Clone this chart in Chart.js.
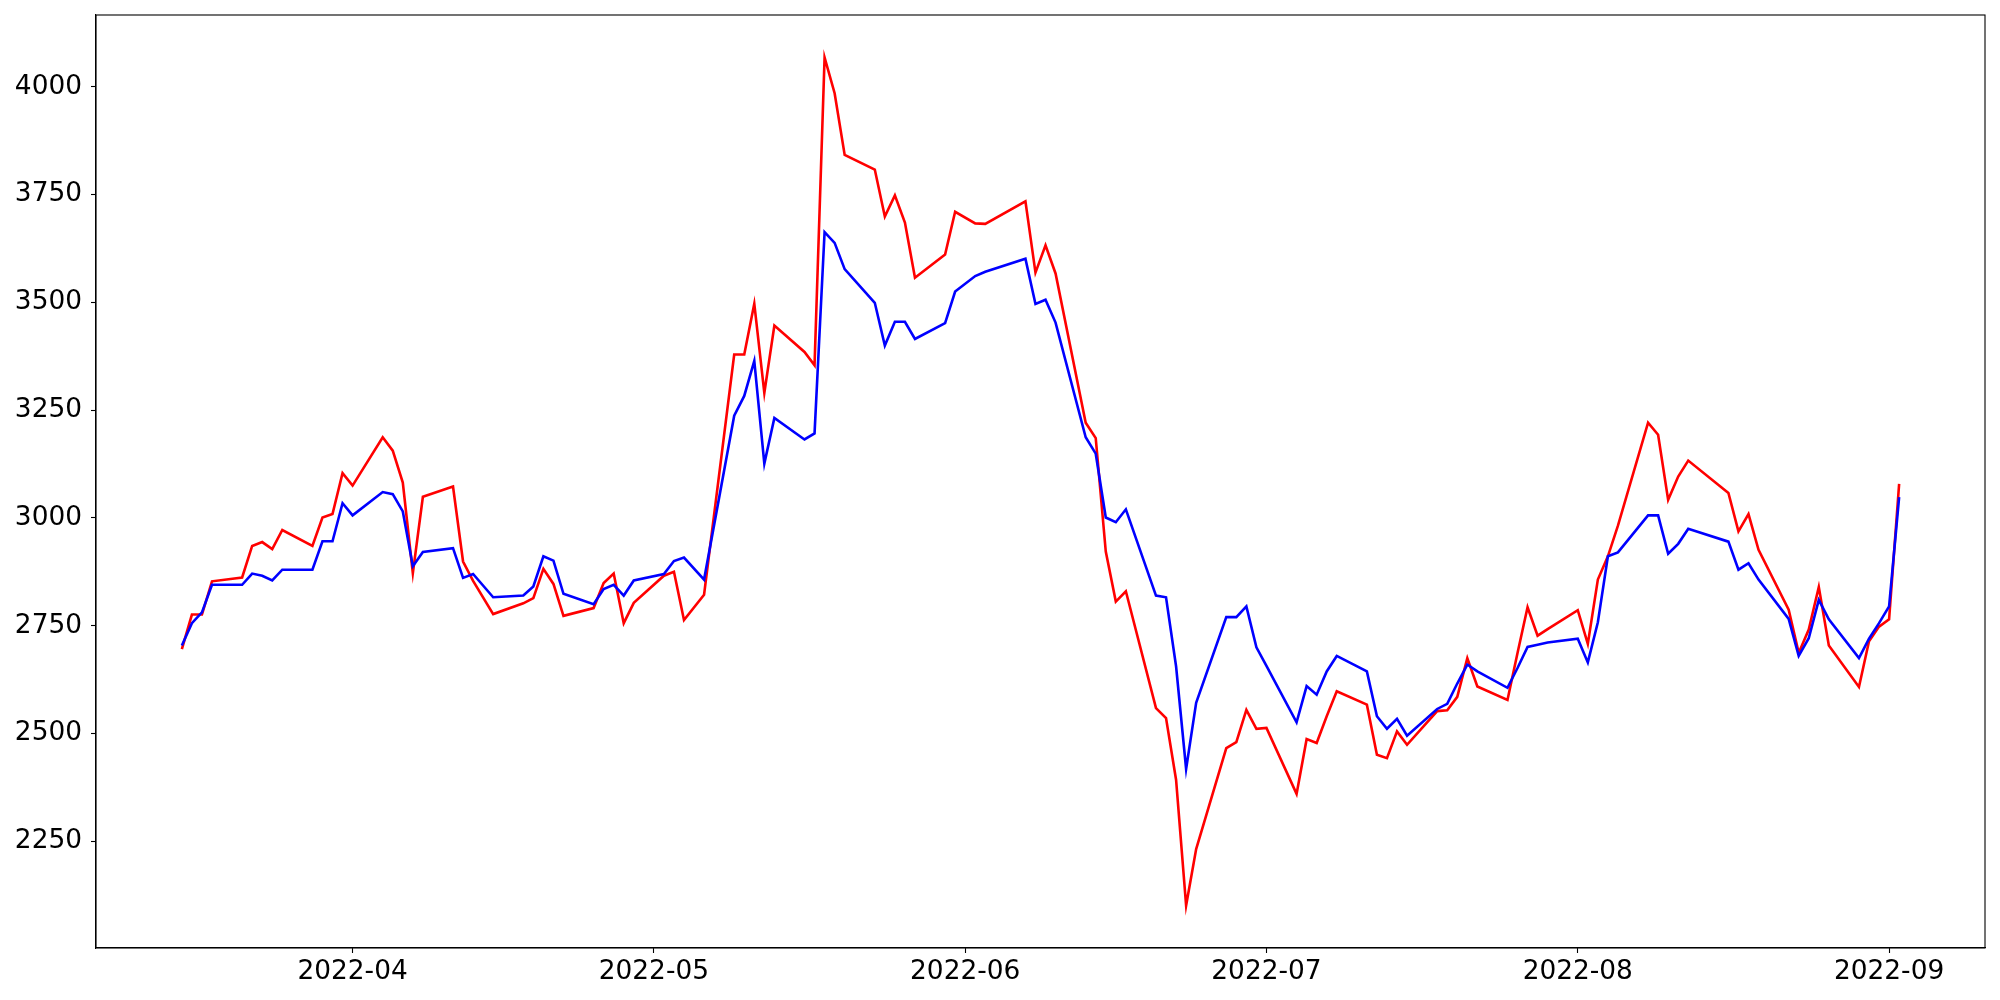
<!DOCTYPE html>
<html>
<head>
<meta charset="utf-8">
<script src="https://cdn.jsdelivr.net/npm/chart.js@4.4.1/dist/chart.umd.min.js"></script>
<style>
  body { margin: 0; background: #fff; }
  #wrap { width: 2000px; height: 1000px; }
</style>
</head>
<body>
<div id="wrap"><canvas id="lineChart" width="2000" height="1000"></canvas></div>
<script>
// dates (trading days shown in the picture)
var dates = [
  '2022-03-15','2022-03-16','2022-03-17','2022-03-18','2022-03-21','2022-03-22','2022-03-23','2022-03-24','2022-03-25',
  '2022-03-28','2022-03-29','2022-03-30','2022-03-31','2022-04-01','2022-04-04','2022-04-05','2022-04-06','2022-04-07',
  '2022-04-08','2022-04-11','2022-04-12','2022-04-13','2022-04-15','2022-04-18','2022-04-19','2022-04-20','2022-04-21',
  '2022-04-22','2022-04-25','2022-04-26','2022-04-27','2022-04-28','2022-04-29','2022-05-02','2022-05-03','2022-05-04',
  '2022-05-06','2022-05-09','2022-05-10','2022-05-11','2022-05-12','2022-05-13','2022-05-16','2022-05-17','2022-05-18',
  '2022-05-19','2022-05-20','2022-05-23','2022-05-24','2022-05-25','2022-05-26','2022-05-27','2022-05-30','2022-05-31',
  '2022-06-02','2022-06-03','2022-06-07','2022-06-08','2022-06-09','2022-06-10','2022-06-13','2022-06-14','2022-06-15',
  '2022-06-16','2022-06-17','2022-06-20','2022-06-21','2022-06-22','2022-06-23','2022-06-24','2022-06-27','2022-06-28',
  '2022-06-29','2022-06-30','2022-07-01','2022-07-04','2022-07-05','2022-07-06','2022-07-07','2022-07-08','2022-07-11',
  '2022-07-12','2022-07-13','2022-07-14','2022-07-15','2022-07-18','2022-07-19','2022-07-20','2022-07-21','2022-07-22',
  '2022-07-25','2022-07-26','2022-07-27','2022-07-28','2022-07-29','2022-08-01','2022-08-02','2022-08-03','2022-08-04',
  '2022-08-05','2022-08-08','2022-08-09','2022-08-10','2022-08-11','2022-08-12','2022-08-16','2022-08-17','2022-08-18',
  '2022-08-19','2022-08-22','2022-08-23','2022-08-24','2022-08-25','2022-08-26','2022-08-29','2022-08-30','2022-08-31',
  '2022-09-01','2022-09-02'
];

// red line
var redValues = [
  2696, 2776, 2776, 2853, 2862, 2935, 2944, 2928, 2972,
  2935, 3001, 3009, 3104, 3075, 3187, 3156, 3082, 2872,
  3049, 3073, 2899, 2854, 2777, 2802, 2814, 2882, 2847,
  2773, 2791, 2849, 2871, 2756, 2803, 2866, 2875, 2763,
  2822, 3379, 3379, 3497, 3290, 3446, 3385, 3354, 4068,
  3985, 3842, 3808, 3699, 3748, 3685, 3557, 3611, 3710,
  3683, 3682, 3734, 3569, 3632, 3567, 3221, 3185, 2922,
  2806, 2830, 2559, 2536, 2393, 2101, 2232, 2466, 2480,
  2555, 2511, 2513, 2360, 2487, 2478, 2540, 2598, 2567,
  2451, 2443, 2505, 2474, 2552, 2554, 2585, 2675, 2609,
  2578, 2687, 2793, 2727, 2742, 2786, 2708, 2857, 2911,
  2982, 3221, 3193, 3042, 3096, 3133, 3058, 2969, 3009,
  2926, 2787, 2687, 2741, 2840, 2704, 2608, 2714, 2748,
  2765, 3079
];

// blue line
var blueValues = [
  2704, 2756, 2781, 2845, 2845, 2871, 2866, 2855, 2880,
  2880, 2946, 2946, 3034, 3006, 3060, 3055, 3015, 2888,
  2921, 2930, 2861, 2870, 2816, 2820, 2841, 2911, 2901,
  2824, 2800, 2835, 2845, 2820, 2855, 2870, 2900, 2908,
  2857, 3237, 3283, 3364, 3126, 3232, 3182, 3196, 3663,
  3638, 3577, 3499, 3400, 3455, 3455, 3415, 3452, 3525,
  3561, 3571, 3601, 3496, 3506, 3453, 3187, 3149, 3001,
  2990, 3020, 2820, 2816, 2656, 2418, 2571, 2770, 2770,
  2795, 2700, 2657, 2526, 2610, 2590, 2644, 2680, 2644,
  2540, 2511, 2534, 2495, 2557, 2569, 2616, 2660, 2644,
  2606, 2652, 2701, 2706, 2711, 2720, 2665, 2758, 2911,
  2920, 3006, 3006, 2917, 2940, 2975, 2945, 2880, 2895,
  2857, 2766, 2680, 2721, 2810, 2765, 2675, 2720, 2756,
  2795, 3048
];

var monthTicks = ['2022-04-01','2022-05-01','2022-06-01','2022-07-01','2022-08-01','2022-09-01'];
var yTicks = [2250, 2500, 2750, 3000, 3250, 3500, 3750, 4000];

function toDay(s) {
  return Date.UTC(+s.slice(0, 4), +s.slice(5, 7) - 1, +s.slice(8, 10)) / 86400000;
}
function dayLabel(d) {
  var dt = new Date(d * 86400000);
  var m = dt.getUTCMonth() + 1;
  return dt.getUTCFullYear() + '-' + (m < 10 ? '0' : '') + m;
}

var xs = dates.map(toDay);
var redPts = xs.map(function (x, i) { return { x: x, y: redValues[i] }; });
var bluePts = xs.map(function (x, i) { return { x: x, y: blueValues[i] }; });

// matplotlib style 5% margins
var xMinD = Math.min.apply(null, xs), xMaxD = Math.max.apply(null, xs);
var xPad = (xMaxD - xMinD) * 0.05;
var allY = redValues.concat(blueValues);
var yMinD = Math.min.apply(null, allY), yMaxD = Math.max.apply(null, allY);
var yPad = (yMaxD - yMinD) * 0.05;

var frame = {
  id: 'frame',
  afterDraw: function (chart) {
    var a = chart.chartArea, c = chart.ctx;
    c.save();
    c.strokeStyle = '#000';
    c.lineWidth = 1.1;
    c.strokeRect(a.left, a.top, a.right - a.left, a.bottom - a.top);
    c.restore();
  }
};

var font = { family: "'DejaVu Sans'", size: 26.4 };

var ctxL = document.getElementById('lineChart').getContext('2d');
var myLineChart = new Chart(ctxL, {
  type: 'line',
  data: {
    datasets: [{
      label: 'red',
      data: redPts,
      borderColor: '#ff0000',
      borderWidth: 2.6,
      pointRadius: 0,
      tension: 0,
      fill: false,
      order: 2
    }, {
      label: 'blue',
      data: bluePts,
      borderColor: '#0000ff',
      borderWidth: 2.6,
      pointRadius: 0,
      tension: 0,
      fill: false,
      order: 1
    }]
  },
  options: {
    responsive: false,
    animation: false,
    layout: { padding: { top: 15, right: 15, left: 0, bottom: 0 } },
    plugins: { legend: { display: false }, tooltip: { enabled: false } },
    scales: {
      x: {
        type: 'linear',
        min: xMinD - xPad,
        max: xMaxD + xPad,
        afterBuildTicks: function (scale) {
          scale.ticks = monthTicks.map(function (s) { return { value: toDay(s) }; });
        },
        afterFit: function (scale) {
          scale.height = 52;
          scale.paddingLeft = 0;
          scale.paddingRight = 0;
        },
        grid: { drawOnChartArea: false, drawTicks: true, tickLength: 5, color: '#000', tickWidth: 1.1 },
        border: { display: true, color: '#000', width: 1.1 },
        ticks: {
          autoSkip: false, maxRotation: 0, padding: 3, color: '#000', font: font,
          callback: function (v) { return dayLabel(v); }
        }
      },
      y: {
        min: yMinD - yPad,
        max: yMaxD + yPad,
        afterBuildTicks: function (scale) {
          scale.ticks = yTicks.map(function (v) { return { value: v }; });
        },
        afterFit: function (scale) {
          scale.width = 96;
          scale.paddingTop = 0;
          scale.paddingBottom = 0;
        },
        grid: { drawOnChartArea: false, drawTicks: true, tickLength: 5, color: '#000', tickWidth: 1.1 },
        border: { display: true, color: '#000', width: 1.1 },
        ticks: {
          padding: 9, color: '#000', font: font,
          callback: function (v) { return String(v); }
        }
      }
    }
  },
  plugins: [frame]
});
</script>
</body>
</html>
